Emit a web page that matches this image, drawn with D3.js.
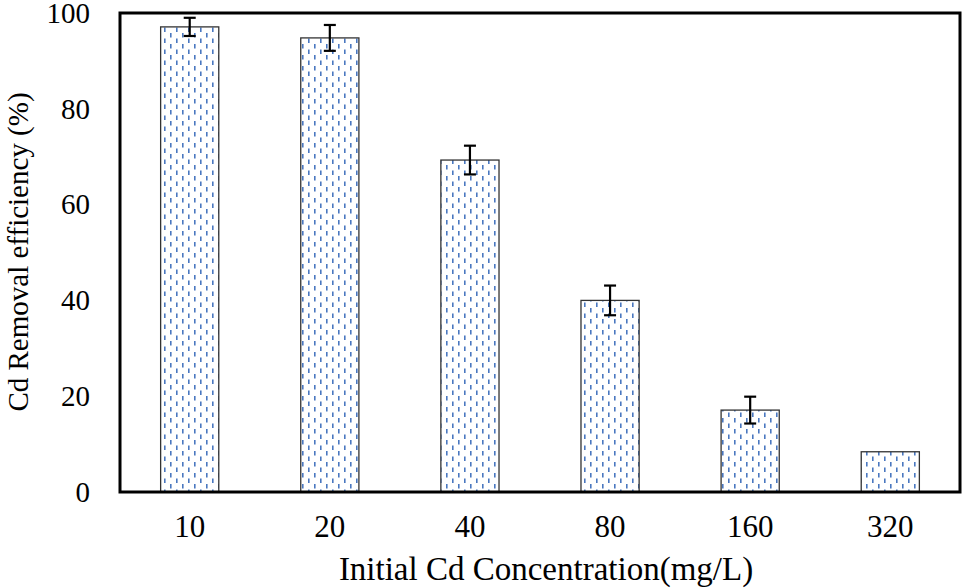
<!DOCTYPE html>
<html><head><meta charset="utf-8">
<script src="https://cdn.jsdelivr.net/npm/d3@7/dist/d3.min.js"></script>
<style>body{margin:0;background:#fff}svg{display:block}text{font-family:"Liberation Serif","Times New Roman",serif}</style>
</head><body>
<svg id="c" width="967" height="588"></svg>
<script>
const categories = ["10","20","40","80","160","320"];
const values = [97.1, 94.8, 69.3, 40.0, 17.1, 8.4];
const errors = [1.9, 2.7, 3.0, 3.1, 2.8, 0];
const yTicks = [0,20,40,60,80,100];

const svg = d3.select("#c");
const m = {l:120, r:7, t:13, b:96};
const W = 967, H = 588;
const x = d3.scaleBand().domain(categories).range([m.l, W-m.r]).paddingInner(0.585).paddingOuter(0.29);
const y = d3.scaleLinear().domain([0,100]).range([H-m.b, m.t]);

const defs = svg.append("defs");
const pat = defs.append("pattern").attr("id","p").attr("patternUnits","userSpaceOnUse")
  .attr("width",12).attr("height",11);
pat.append("rect").attr("width",12).attr("height",11).attr("fill","#fff");
pat.append("rect").attr("x",2).attr("y",0).attr("width",1.6).attr("height",4.5).attr("fill","#4a78c0");
pat.append("rect").attr("x",8).attr("y",5.5).attr("width",1.6).attr("height",4.5).attr("fill","#4a78c0");

svg.append("g").selectAll("rect").data(values).join("rect")
  .attr("x",(d,i)=>x(categories[i])).attr("width",x.bandwidth())
  .attr("y",d=>y(d)).attr("height",d=>y(0)-y(d))
  .attr("fill","url(#p)").attr("stroke","#333").attr("stroke-width",1.3);

const eg = svg.append("g").attr("stroke","#000").attr("stroke-width",2.2);
values.forEach((v,i)=>{
  if(!errors[i]) return;
  const cx = x(categories[i]) + x.bandwidth()/2;
  eg.append("line").attr("x1",cx).attr("x2",cx).attr("y1",y(v+errors[i])).attr("y2",y(v-errors[i]));
  [v+errors[i], v-errors[i]].forEach(e=>eg.append("line").attr("x1",cx-6).attr("x2",cx+6).attr("y1",y(e)).attr("y2",y(e)));
});

svg.append("rect").attr("x",m.l).attr("y",m.t).attr("width",W-m.r-m.l).attr("height",H-m.b-m.t)
  .attr("fill","none").attr("stroke","#000").attr("stroke-width",3);

const ya = svg.append("g").attr("transform",`translate(${m.l},0)`)
  .call(d3.axisLeft(y).tickValues(yTicks).tickSize(0).tickPadding(30));
ya.select(".domain").remove();
ya.selectAll("text").attr("font-size",29).attr("font-family","Liberation Serif").attr("fill","#000");

const xa = svg.append("g").attr("transform",`translate(0,${H-m.b})`)
  .call(d3.axisBottom(x).tickSize(0).tickPadding(23));
xa.select(".domain").remove();
xa.selectAll("text").attr("font-size",31).attr("font-family","Liberation Serif").attr("fill","#000");

svg.append("text").attr("x",546).attr("y",580).attr("text-anchor","middle").attr("font-size",33).text("Initial Cd Concentration(mg/L)");
svg.append("text").attr("transform","translate(28,252) rotate(-90)").attr("text-anchor","middle").attr("font-size",29).text("Cd Removal efficiency (%)");
</script>
</body></html>
